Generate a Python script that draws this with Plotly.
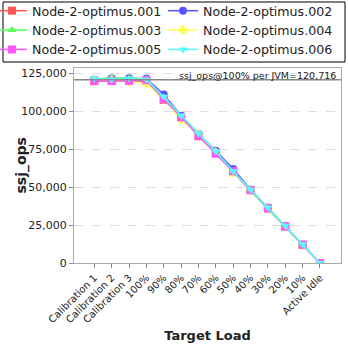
import plotly.graph_objects as go

categories = ["Calibration 1", "Calibration 2", "Calibration 3", "100%", "90%", "80%", "70%",
              "60%", "50%", "40%", "30%", "20%", "10%", "Active Idle"]

series_names = ["Node-2-optimus.001", "Node-2-optimus.002", "Node-2-optimus.003",
                "Node-2-optimus.004", "Node-2-optimus.005", "Node-2-optimus.006"]

node001 = [119800, 120000, 120200, 120000, 107500, 96000, 83500, 72500, 60500, 48000, 36000, 24000, 12000, 0]
node002 = [121000, 121500, 121800, 121500, 111000, 97000, 85000, 74000, 62000, 48500, 36500, 24500, 12200, 0]
node003 = [121300, 122000, 121700, 121500, 108500, 96500, 84000, 72000, 60000, 47500, 35800, 24000, 11800, 0]
node004 = [120500, 120300, 119800, 118500, 108000, 94500, 84500, 72800, 59500, 48000, 36000, 24000, 11800, 0]
node005 = [120000, 120000, 120000, 120500, 108000, 96000, 84000, 72000, 60500, 48000, 36000, 24000, 12000, 0]
node006 = [121500, 121000, 121500, 121000, 109500, 97000, 85500, 73500, 60500, 48500, 36500, 24500, 12300, 0]

reference_value = 120716
y_ticks = [0, 25000, 50000, 75000, 100000, 125000]

series_values = [node001, node002, node003, node004, node005, node006]
colors = ["#FF5555", "#5555FF", "#55FF55", "#FFFF55", "#FF55FF", "#55FFFF"]
symbols = ["square", "circle", "triangle-up", "diamond", "square", "triangle-down"]

FONT = "DejaVu Sans"
W, H = 348, 348
L, R, T, B = 74, 7, 68, 85
PW, PH = W - L - R, H - T - B


def px_x(px):
    return (px - L) / PW


def px_y(py):
    return (H - B - py) / PH


fig = go.Figure()
x_idx = list(range(len(categories)))
for name, vals, c, s in zip(series_names, series_values, colors, symbols):
    fig.add_trace(go.Scatter(
        x=x_idx, y=vals, name=name, mode="lines+markers",
        line=dict(color=c, width=1.5),
        marker=dict(symbol=s, size=8, color=c),
    ))

fig.add_shape(type="line", xref="paper", x0=0, x1=1, yref="y", y0=reference_value, y1=reference_value,
              line=dict(color="#888888", width=1.5))
# legend frame
fig.add_shape(type="rect", xref="paper", yref="paper",
              x0=px_x(3), x1=px_x(345), y0=px_y(62), y1=px_y(2),
              line=dict(color="black", width=1), fillcolor="rgba(0,0,0,0)", layer="above")
fig.add_annotation(xref="paper", yref="paper", x=px_x(338), y=px_y(68), xanchor="right", yanchor="top",
                   text=f"ssj_ops@100% per JVM={reference_value:,}", showarrow=False,
                   font=dict(family=FONT, size=9.5, color="#222222"))
# y axis title
fig.add_annotation(xref="paper", yref="paper", x=px_x(21), y=0.5, xanchor="center", yanchor="middle",
                   text="<b>ssj_ops</b>", textangle=-90, showarrow=False,
                   font=dict(family=FONT, size=14, color="#222222"))

fig.update_layout(
    width=W, height=H,
    margin=dict(l=L, r=R, t=T, b=B, autoexpand=False),
    paper_bgcolor="white", plot_bgcolor="white",
    font=dict(family=FONT, color="#222222"),
    showlegend=True,
    legend=dict(
        orientation="h", xref="paper", yref="paper",
        x=px_x(-8), y=px_y(-4), xanchor="left", yanchor="top",
        entrywidth=126, entrywidthmode="pixels",
        borderwidth=0, bgcolor="rgba(0,0,0,0)",
        font=dict(family=FONT, size=12.6, color="#222222"),
        itemwidth=30, tracegroupgap=0,
    ),
    xaxis=dict(
        range=[-1.17, 13 + 1.21], tickmode="array", tickvals=x_idx, ticktext=categories,
        tickangle=-45, tickfont=dict(size=10), ticks="outside", ticklen=4, tickcolor="#888888",
        showgrid=False, zeroline=False, showline=True, linecolor="#AAAAAA", mirror=True,
        title=dict(text="<b>Target Load</b>", font=dict(size=13), standoff=6),
    ),
    yaxis=dict(
        range=[0, 128500], tickmode="array", tickvals=y_ticks,
        ticktext=[f"{v:,}" for v in y_ticks], tickfont=dict(size=11),
        ticks="outside", ticklen=4, tickcolor="#888888",
        showgrid=True, gridcolor="#DDDDDD", griddash="dash", zeroline=False,
        showline=True, linecolor="#AAAAAA", mirror=True,
    ),
)

fig.write_html("out.html")
